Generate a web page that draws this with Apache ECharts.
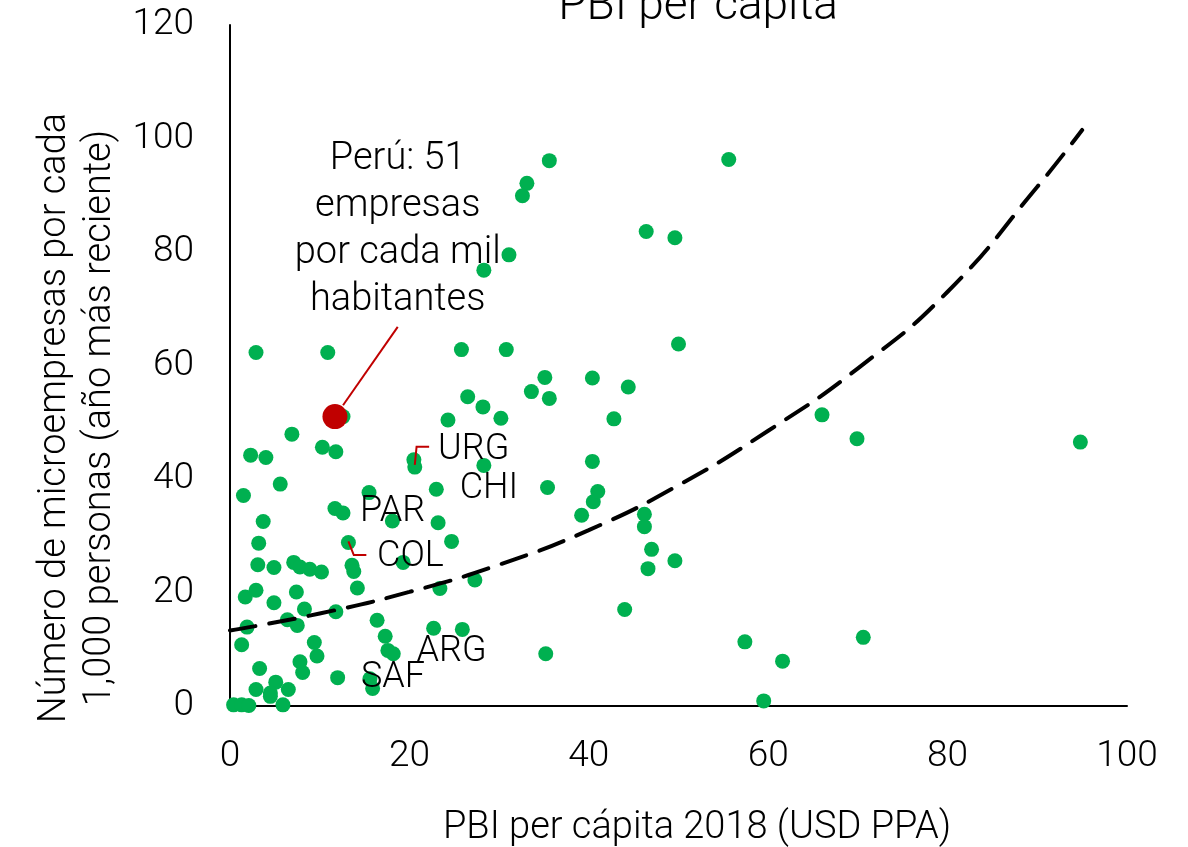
<!DOCTYPE html>
<html>
<head>
<meta charset="utf-8">
<script src="https://cdn.jsdelivr.net/npm/echarts@6/dist/echarts.min.js"></script>
<style>
  html, body { margin: 0; padding: 0; background: #fff; }
  #main { width: 1188px; height: 847px; }
</style>
</head>
<body>
<div id="main"></div>
<script>
// PBI per cápita 2018 (miles USD PPA) vs microempresas por cada 1,000 personas
const pbiX = [
  2.9, 10.9, 25.8, 30.8, 35.1, 33.6, 35.6, 40.4, 26.5, 28.2, 30.2, 24.3, 12.6, 6.9,
  10.3, 11.8, 2.3, 4.0, 20.5, 20.6, 28.3, 40.4, 5.6, 1.5, 15.5, 23.0, 35.4, 11.7,
  12.6, 18.1, 23.2, 3.7, 39.2, 40.5, 41.0, 3.2, 13.2, 24.7, 3.1, 4.9, 7.1, 7.8,
  8.9, 10.2, 13.6, 13.8, 19.3, 14.2, 1.7, 2.9, 4.9, 7.4, 23.4, 27.3, 8.3, 11.8,
  1.9, 6.4, 7.5, 16.4, 1.3, 9.4, 17.3, 22.7, 25.9, 17.6, 18.2, 9.7, 7.8, 8.1,
  35.2, 3.3, 12.0, 2.9, 5.1, 4.5, 6.5, 4.5, 0.4, 1.3, 2.1, 5.9, 15.6, 15.9,
  50.0, 44.4, 42.8, 46.2, 46.2, 47.0, 49.6, 46.6, 44.0, 66.0, 69.9, 94.8, 57.4, 61.6,
  70.6, 59.5, 35.6, 33.1, 32.6, 55.6, 46.4, 49.6, 31.1, 28.3
];
const microY = [
  62.3, 62.3, 62.8, 62.8, 57.9, 55.4, 54.2, 57.8, 54.5, 52.7, 50.7, 50.4, 51.0, 47.9,
  45.6, 44.8, 44.2, 43.8, 43.4, 42.1, 42.4, 43.1, 39.1, 37.1, 37.6, 38.2, 38.5, 34.8,
  34.0, 32.6, 32.3, 32.5, 33.6, 36.0, 37.8, 28.7, 28.8, 29.0, 24.9, 24.4, 25.3, 24.5,
  24.1, 23.6, 24.8, 23.7, 25.3, 20.8, 19.2, 20.4, 18.2, 20.1, 20.7, 22.2, 17.1, 16.6,
  13.9, 15.2, 14.2, 15.1, 10.8, 11.2, 12.3, 13.7, 13.5, 9.8, 9.2, 8.8, 7.8, 5.9,
  9.2, 6.6, 5.0, 2.9, 4.2, 2.3, 2.9, 1.7, 0.2, 0.2, 0.1, 0.2, 4.8, 3.1,
  63.8, 56.2, 50.6, 33.8, 31.6, 27.6, 25.6, 24.2, 17.0, 51.3, 47.1, 46.5, 11.3, 7.9,
  12.1, 0.9, 96.1, 92.1, 89.9, 96.3, 83.6, 82.5, 79.5, 76.8
];
const peruX = [11.7];
const peruY = [51];
// línea de tendencia
const trendX = [0, 10, 20, 30, 40, 50, 60, 70, 80, 90, 95];
const trendY = [13.3, 16.3, 20.1, 24.9, 31.0, 38.9, 48.5, 59.5, 73.0, 91.5, 101.5];
const countryNames = ['URG', 'CHI', 'PAR', 'COL', 'ARG', 'SAF'];

const FONT = 'Roboto, "Noto Sans", sans-serif';
const chartDom = document.getElementById('main');
const myChart = echarts.init(chartDom);

const option = {
  animation: false,
  grid: { left: 230, right: 61, top: 25, bottom: 141, containLabel: false },
  xAxis: {
    type: 'value',
    min: 0, max: 100, interval: 20,
    axisLine: { show: true, lineStyle: { color: '#000', width: 2 } },
    axisTick: { show: false },
    splitLine: { show: false },
    axisLabel: { color: '#000', fontSize: 37, fontFamily: FONT, fontWeight: 300, margin: 32 }
  },
  yAxis: {
    type: 'value',
    min: 0, max: 120, interval: 20,
    axisLine: { show: true, lineStyle: { color: '#000', width: 2 } },
    axisTick: { show: false },
    splitLine: { show: false },
    axisLabel: { color: '#000', fontSize: 37, fontFamily: FONT, fontWeight: 300, margin: 36 }
  },
  series: [
    {
      type: 'scatter',
      symbolSize: 15,
      itemStyle: { color: '#00B050', opacity: 1 },
      data: pbiX.map((x, i) => [x, microY[i]]),
      z: 2
    },
    {
      type: 'line',
      smooth: true,
      showSymbol: false,
      lineStyle: { color: '#000', width: 4, type: [26, 14], cap: 'round' },
      data: trendX.map((x, i) => [x, trendY[i]]),
      z: 3
    },
    {
      type: 'scatter',
      symbolSize: 25,
      itemStyle: { color: '#C00000', opacity: 1 },
      data: peruX.map((x, i) => [x, peruY[i]]),
      z: 4
    }
  ]
};
myChart.setOption(option);

// anotaciones (en coordenadas de datos)
const px = (p) => myChart.convertToPixel({ gridIndex: 0 }, p);
const labelPos = {
  URG: [23.2, 45.1], CHI: [25.6, 38.2], PAR: [14.5, 34.2],
  COL: [16.4, 26.3], ARG: [20.8, 9.5], SAF: [14.6, 4.9]
};
const leaders = [
  [[18.7, 66.8], [12.6, 53.0]],
  [[20.6, 42.5], [20.8, 45.7], [22.2, 45.7]],
  [[13.2, 29.0], [13.8, 26.6], [15.2, 26.6]]
];
const graphic = [];
countryNames.forEach((name) => {
  const p = px(labelPos[name]);
  graphic.push({
    type: 'text', z: 10,
    style: { text: name, x: p[0], y: p[1], font: '300 36px ' + FONT, fill: '#000',
      textAlign: 'left', textVerticalAlign: 'middle' }
  });
});
leaders.forEach((pts) => {
  graphic.push({
    type: 'polyline', z: 10,
    shape: { points: pts.map(px) },
    style: { stroke: '#C00000', lineWidth: 2, fill: null }
  });
});
const peruTxt = px([18.7, 100.4]);
graphic.push({
  type: 'text', z: 10,
  style: { text: 'Perú: 51\nempresas\npor cada mil\nhabitantes', x: peruTxt[0], y: peruTxt[1],
    font: '300 38px ' + FONT, lineHeight: 47, fill: '#000', textAlign: 'center', textVerticalAlign: 'top' }
});
// título y nombres de ejes
graphic.push({
  type: 'text', z: 10,
  style: { text: 'PBI per cápita', x: 698, y: 30, font: '300 46px ' + FONT, fill: '#000',
    textAlign: 'center', textVerticalAlign: 'bottom' }
});
graphic.push({
  type: 'text', z: 10,
  style: { text: 'PBI per cápita 2018 (USD PPA)', x: 697, y: 828, font: '300 38px ' + FONT, fill: '#000',
    textAlign: 'center', textVerticalAlign: 'middle' }
});
graphic.push({
  type: 'text', z: 10, x: 78, y: 418, rotation: Math.PI / 2,
  style: { text: 'Número de microempresas por cada\n1,000 personas (año más reciente)', x: 0, y: 0,
    font: '300 38px ' + FONT, lineHeight: 45, fill: '#000', textAlign: 'center', textVerticalAlign: 'middle' }
});
myChart.setOption({ graphic: graphic });
</script>
</body>
</html>
